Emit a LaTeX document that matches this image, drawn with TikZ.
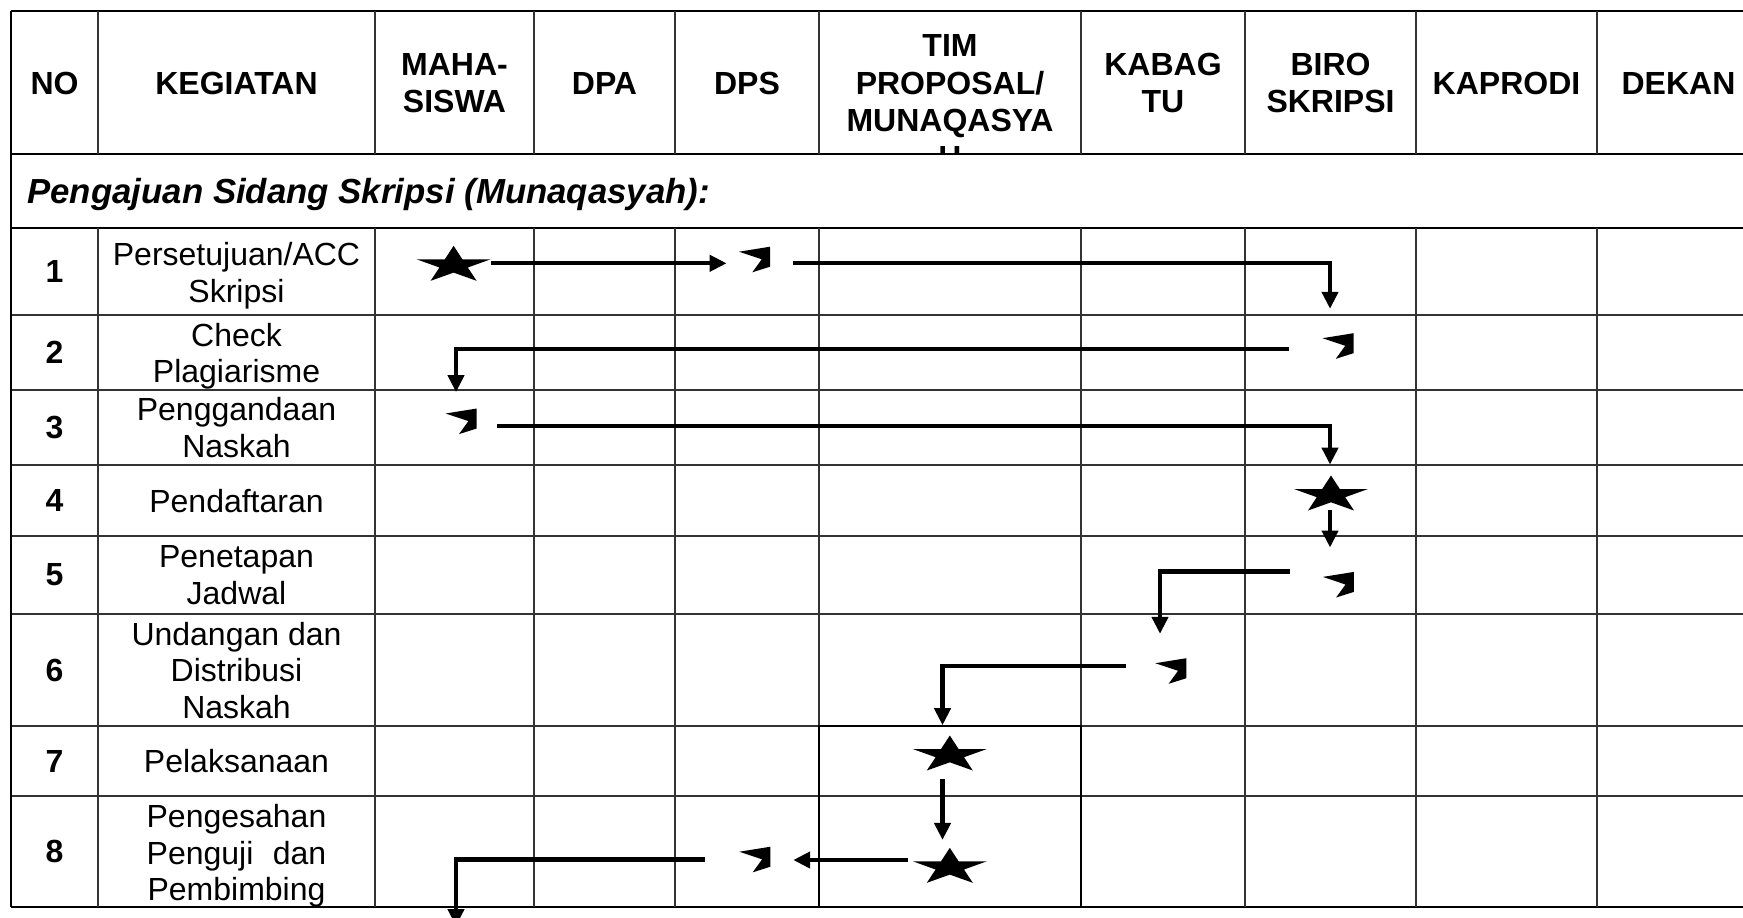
\documentclass[tikz,border=0pt]{standalone}
\usepackage{fontspec}
\setmainfont{Liberation Sans}
\usetikzlibrary{arrows.meta}

\tikzset{
  garis/.style={line width=0.7pt, color=black!80},
  garistebal/.style={line width=1pt, color=black},
  alur/.style={line width=2.1pt, color=black, -{Triangle[length=8.5pt, width=8pt]}},
  judul/.style={font=\fontsize{16}{18.7}\selectfont\bfseries, align=center, inner sep=0pt},
  isi/.style={font=\fontsize{16}{18.3}\selectfont, align=center, inner sep=0pt},
  nomor/.style={font=\fontsize{16}{18.3}\selectfont\bfseries, inner sep=0pt},
  kotakbintang/.style={inner sep=0pt, minimum width=36.5pt, minimum height=17pt},
  kotaktanda/.style={inner sep=0pt, minimum width=15.5pt, minimum height=12.8pt}
}

\newcommand{\bintang}[2]{%
  \node (#1) [kotakbintang] at (#2) {};
  \fill [shift={(#2)}] (0pt,17.5pt) -- (8.8pt,4pt) -- (37pt,4pt) -- (14.2pt,-4.2pt) -- (23pt,-17.5pt) -- (0pt,-9.3pt)
    -- (-23pt,-17.5pt) -- (-14.2pt,-4.2pt) -- (-37pt,4pt) -- (-8.8pt,4pt) -- cycle;}
\newcommand{\tanda}[2]{%
  \node (#1) [kotaktanda] at (#2) {};
  \fill [shift={(#2)}] (-15.5pt,7.8pt) -- (15.5pt,12.8pt) -- (15.5pt,-7.2pt) -- (-2.2pt,-12.8pt) -- (7.2pt,0.2pt) -- cycle;}

\begin{document}
\begin{tikzpicture}[scale=0.5]
\useasboundingbox (0pt,0pt) rectangle (1743pt,-917pt);
\clip (0pt,0pt) rectangle (1743pt,-917pt);
\draw [garistebal] (11pt,-11pt) -- (1760pt,-11pt);
\draw [garistebal] (11pt,-154pt) -- (1760pt,-154pt);
\draw [garistebal] (11pt,-228pt) -- (1760pt,-228pt);
\draw [garis] (11pt,-315pt) -- (1760pt,-315pt);
\draw [garis] (11pt,-390pt) -- (1760pt,-390pt);
\draw [garis] (11pt,-465pt) -- (1760pt,-465pt);
\draw [garis] (11pt,-536pt) -- (1760pt,-536pt);
\draw [garis] (11pt,-614pt) -- (1760pt,-614pt);
\draw [garis] (11pt,-726pt) -- (1760pt,-726pt);
\draw [garis] (11pt,-796pt) -- (1760pt,-796pt);
\draw [garistebal] (11pt,-907pt) -- (1760pt,-907pt);
\draw [garistebal] (11pt,-11pt) -- (11pt,-907pt);
\draw [garis] (98pt,-11pt) -- (98pt,-154pt) (98pt,-228pt) -- (98pt,-907pt);
\draw [garis] (375pt,-11pt) -- (375pt,-154pt) (375pt,-228pt) -- (375pt,-907pt);
\draw [garis] (534pt,-11pt) -- (534pt,-154pt) (534pt,-228pt) -- (534pt,-907pt);
\draw [garis] (675pt,-11pt) -- (675pt,-154pt) (675pt,-228pt) -- (675pt,-907pt);
\draw [garis] (819pt,-11pt) -- (819pt,-154pt) (819pt,-228pt) -- (819pt,-907pt);
\draw [garis] (1081pt,-11pt) -- (1081pt,-154pt) (1081pt,-228pt) -- (1081pt,-907pt);
\draw [garis] (1245pt,-11pt) -- (1245pt,-154pt) (1245pt,-228pt) -- (1245pt,-907pt);
\draw [garis] (1416pt,-11pt) -- (1416pt,-154pt) (1416pt,-228pt) -- (1416pt,-907pt);
\draw [garis] (1597pt,-11pt) -- (1597pt,-154pt) (1597pt,-228pt) -- (1597pt,-907pt);
\draw [garistebal] (819pt,-726pt) rectangle (1081pt,-907pt);

\node (hNo) [judul] at (54.5pt, -83pt) {NO};
\node (hKegiatan) [judul] at (236.5pt, -83pt) {KEGIATAN};
\node (hMhs) [judul] at (454.5pt, -83pt) {MAHA-\\SISWA};
\node (hDpa) [judul] at (604.5pt, -83pt) {DPA};
\node (hDps) [judul] at (747pt, -83pt) {DPS};
\begin{scope}
\clip (819pt,-11pt) rectangle (1081pt,-154pt);
\node (hTim) [judul] at (950pt, -101.8pt) {TIM\\PROPOSAL/\\MUNAQASYA\\H};
\end{scope}
\node (hKabag) [judul] at (1163pt, -83pt) {KABAG\\TU};
\node (hBiro) [judul] at (1330.5pt, -83pt) {BIRO\\SKRIPSI};
\node (hKaprodi) [judul] at (1506.5pt, -83pt) {KAPRODI};
\node (hDekan) [judul] at (1678.5pt, -83pt) {DEKAN};
\node (bagian) [anchor=west, inner sep=0pt, font=\fontsize{17.4}{20}\selectfont\bfseries\itshape] at (27pt, -194.5pt) {Pengajuan Sidang Skripsi (Munaqasyah):};

\node (n1) [nomor] at (54.5pt, -271.5pt) {1};
\node (n2) [nomor] at (54.5pt, -352.5pt) {2};
\node (n3) [nomor] at (54.5pt, -427.5pt) {3};
\node (n4) [nomor] at (54.5pt, -500.5pt) {4};
\node (n5) [nomor] at (54.5pt, -575pt) {5};
\node (n6) [nomor] at (54.5pt, -670pt) {6};
\node (n7) [nomor] at (54.5pt, -761pt) {7};
\node (n8) [nomor] at (54.5pt, -851.5pt) {8};
\node (k1) [isi] at (236.5pt, -275.6pt) {Persetujuan/ACC\\Skripsi};
\node (k2) [isi] at (236.5pt, -356.3pt) {Check\\Plagiarisme};
\node (k3) [isi] at (236.5pt, -427.5pt) {Penggandaan\\Naskah};
\node (k4) [isi] at (236.5pt, -501pt) {Pendaftaran};
\node (k5) [isi] at (236.5pt, -575.3pt) {Penetapan\\Jadwal};
\node (k6) [isi] at (236.5pt, -670.4pt) {Undangan dan\\Distribusi\\Naskah};
\node (k7) [isi] at (236.5pt, -761.5pt) {Pelaksanaan};
\node (k8) [isi] at (236.5pt, -855.9pt) {Pengesahan\\Penguji\hspace{0.61em}dan\\Pembimbing};

\bintang{s1}{453.6pt,-263.3pt}
\bintang{s4}{1331pt,-493pt}
\bintang{s7}{949.8pt,-753pt}
\bintang{s8}{949.8pt,-865.3pt}
\tanda{g1}{754.5pt,-259.5pt}
\tanda{g2}{1338pt,-346pt}
\tanda{g3}{461.2pt,-421.3pt}
\tanda{g5}{1338.3pt,-584.7pt}
\tanda{g6}{1170.8pt,-671pt}
\tanda{g8}{754.9pt,-859.5pt}
\coordinate (lMhs) at (456pt, 0pt);
\coordinate (lTim) at (942.5pt, 0pt);
\coordinate (lTu) at (1160pt, 0pt);
\coordinate (lBiro) at (1330pt, 0pt);
\coordinate (y2) at (0pt, -349pt);
\coordinate (y3) at (0pt, -426pt);
\coordinate (y6) at (0pt, -665.7pt);
\coordinate (y8) at (0pt, -860pt);
\coordinate (keluar) at (456pt, -926pt);

\draw [alur, shorten >=6pt] (s1.east) -- (s1.east -| g1.west);
\draw [alur, shorten <=11.3pt, shorten >=12pt] (g1.east |- s1.east) -| (lBiro |- g2.north);
\draw [alur, shorten <=16.5pt, shorten >=8pt] (g2.west |- y2) -| (lMhs |- g3.north);
\draw [alur, shorten <=10pt, shorten >=5.5pt] (g3.east |- y3) -| (lBiro |- s4.north);
\draw [alur, shorten >=12pt] (lBiro |- s4.south) -- (lBiro |- g5.north);
\draw [alur, shorten <=16pt, shorten >=12pt] (g5.north west) -| (lTu |- g6.north);
\draw [alur, shorten <=14.6pt, shorten >=5.2pt] (g6.west |- y6) -| (lTim |- s7.north);
\draw [alur, shorten <=4.3pt, shorten >=4pt] (lTim |- s7.south) -- (lTim |- s8.north);
\draw [alur, shorten <=2.4pt, shorten >=11.2pt] (s8.west |- y8) -- (y8 -| g8.east);
\draw [alur, shorten <=17pt] (g8.west) -| (keluar);
\end{tikzpicture}
\end{document}
